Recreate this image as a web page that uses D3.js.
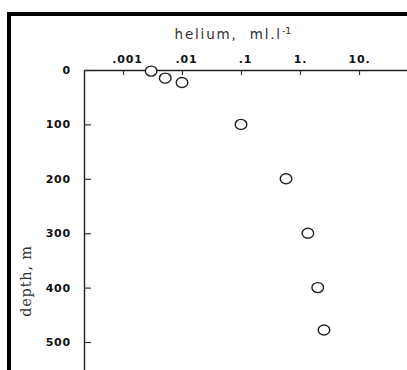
<!DOCTYPE html>
<html>
<head>
<meta charset="utf-8">
<script src="https://cdn.jsdelivr.net/npm/d3@7"></script>
<style>
  html, body { margin: 0; padding: 0; background: #fff; }
  svg { display: block; }
</style>
</head>
<body>
<div id="chart"></div>
<script>
// helium concentration (ml/l) against depth (m)
var helium = [0.003, 0.0052, 0.01, 0.1, 0.58, 1.36, 2.0, 2.55];
var depth  = [2, 15, 23, 100, 200, 300, 400, 478];
var xTicks = [0.001, 0.01, 0.1, 1, 10];
var xTickLabels = ['.001', '.01', '.1', '1.', '10.'];
var yTicks = [0, 100, 200, 300, 400, 500];

var width = 407, height = 370;
var svg = d3.select('#chart').append('svg').attr('width', width).attr('height', height);

// scales fitted to the tick positions, then stretched to the axis ends
var x = d3.scaleLog().domain([0.001, 10]).range([123, 359]);
x.domain([x.invert(84), x.invert(407)]).range([84, 407]);
var y = d3.scaleLinear().domain([0, 500]).range([70, 342]);
y.domain([0, y.invert(372)]).range([70, 372]);

// frame (left and top edge)
svg.append('path')
  .attr('d', 'M9,372 L9,14 L407,14')
  .attr('fill', 'none')
  .attr('stroke', '#000')
  .attr('stroke-width', 4);

var xAxis = d3.axisTop(x).tickValues(xTicks)
  .tickFormat(function(d, i) { return xTickLabels[i]; })
  .tickSizeInner(-5).tickSizeOuter(0).tickPadding(7);
var gx = svg.append('g').attr('transform', 'translate(0,70)').call(xAxis);

var yAxis = d3.axisLeft(y).tickValues(yTicks)
  .tickSizeInner(-7).tickSizeOuter(0).tickPadding(13);
var gy = svg.append('g').attr('transform', 'translate(84,0)').call(yAxis);

[gx, gy].forEach(function(g) {
  g.select('.domain').attr('stroke', '#222').attr('stroke-width', 1.4);
  g.selectAll('.tick line').attr('stroke', '#333').attr('stroke-width', 1.2);
  g.selectAll('.tick text')
    .attr('fill', '#111')
    .style('font-family', '"DejaVu Sans", sans-serif')
    .style('font-weight', 'bold')
    .style('font-size', '11px')
    .style('letter-spacing', '0.8px');
});
gx.selectAll('.tick text').attr('dx', function(d, i) { return xTickLabels[i][0] === '.' ? 4 : 0; });

// data points
svg.append('g').selectAll('ellipse')
  .data(helium)
  .enter()
  .append('ellipse')
  .attr('cx', function(d) { return x(d); })
  .attr('cy', function(d, i) { return y(depth[i]); })
  .attr('rx', 5.8)
  .attr('ry', 5)
  .attr('fill', '#fff')
  .attr('stroke', '#222')
  .attr('stroke-width', 1.4);

// titles
var title = svg.append('text')
  .attr('x', 233).attr('y', 39)
  .attr('text-anchor', 'middle')
  .attr('fill', '#333')
  .style('white-space', 'pre')
  .style('font-family', '"DejaVu Sans", sans-serif')
  .style('font-size', '13.5px')
  .style('letter-spacing', '1.8px');
title.append('tspan').text('helium,  ml.l');
title.append('tspan').attr('dy', -5).style('font-size', '9.5px').style('letter-spacing', '0px').text('-1');

svg.append('text')
  .attr('transform', 'translate(31,281) rotate(-90)')
  .attr('text-anchor', 'middle')
  .attr('fill', '#333')
  .style('white-space', 'pre')
  .style('font-family', '"DejaVu Serif", serif')
  .style('font-size', '14.5px')
  .style('letter-spacing', '0.8px')
  .text('depth, m');
</script>
</body>
</html>
